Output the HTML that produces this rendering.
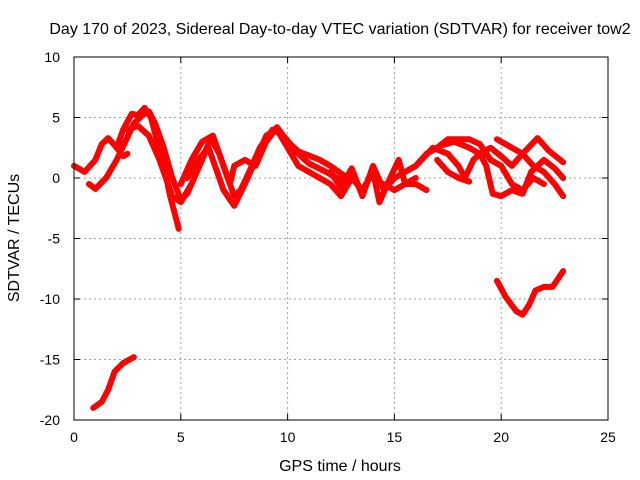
<!DOCTYPE html>
<html><head><meta charset="utf-8"><style>
body{margin:0;background:#fff;}
svg{display:block;font-family:"Liberation Sans",sans-serif;}
</style></head><body>
<svg id="chart" width="640" height="480">
<rect width="640" height="480" fill="#fff"/>
<text x="340" y="34" font-size="16" text-anchor="middle">Day 170 of 2023, Sidereal Day-to-day VTEC variation (SDTVAR) for receiver tow2</text>
<text x="340" y="471" font-size="16" text-anchor="middle">GPS time / hours</text>
<text x="19" y="238" font-size="16" text-anchor="middle" transform="rotate(-90 19 238)">SDTVAR / TECUs</text>
<g id="grid"></g><g id="series"></g>
<rect x="74" y="57" width="534" height="363" fill="none" stroke="#000"/>
</svg>
<script>
const xTicks=[0,5,10,15,20,25];
const yTicks=[10,5,0,-5,-10,-15,-20];
const tracks=[
[[0,1],[0.5,0.5],[1,1.5],[1.3,2.8],[1.6,3.3],[2,2.5],[2.3,1.8],[2.5,2]],
[[0.7,-0.5],[1,-0.9],[1.5,0],[2,1.5],[2.4,3],[2.8,4.5],[3.2,5.2],[3.5,5.5],[3.8,4.5],[4.2,2.5],[4.6,0],[5,-1.8],[5.3,-1.3],[5.5,-0.5]],
[[2,2.5],[2.3,4],[2.7,5.3],[3,5.2],[3.3,5.8],[3.6,5],[3.9,3],[4.2,1],[4.5,-1.5],[4.8,-3.5],[4.9,-4.2]],
[[2.5,4],[3,4.3],[3.5,3.5],[4,1.5],[4.3,0],[4.6,-1.5],[5,-2],[5.5,-0.5],[6,1.5],[6.4,3.3],[6.8,2],[7.2,0],[7.5,-1.5],[7.8,-1],[8.2,0.5],[8.7,2.5],[9.3,4],[9.8,3.5],[10.5,2],[11,1.2],[11.8,0.5],[12.5,-0.2]],
[[5,-0.5],[5.5,1.5],[6,3],[6.5,3.5],[7,1],[7.3,-0.5],[7.5,1],[8,1.5],[8.5,1],[9,3],[9.5,4.2],[10,3],[10.5,2.2],[11.5,1.5],[12,1],[12.8,0]],
[[5.3,0],[5.8,1.5],[6.3,2.5],[6.6,1],[7,-1],[7.5,-2.3],[8,-0.5],[8.5,1.5],[9,3.5],[9.5,4],[10,2.5],[10.5,1],[11,0.5],[11.5,0],[12,-0.5],[12.5,-1.5],[13,0],[13.5,-1],[14,0.5],[14.3,-2],[14.8,0],[15.2,1.5],[15.5,-0.5],[16,0]],
[[12,0.5],[12.5,-0.8],[13,0.8],[13.5,-1.5],[14,1],[14.5,-1],[15,0],[15.5,0.5],[16,1],[16.5,2],[17,2.5],[17.5,3.2],[18.5,3.2],[19,2.8],[19.5,1.5],[20,1],[20.5,-0.5],[21,-1],[21.5,0],[22,-0.5]],
[[14.5,-0.5],[15,-1],[15.5,-0.5],[16,-0.5],[16.5,-1]],
[[15.5,0.5],[16,1],[16.8,2.5],[17.5,2],[18,1],[18.3,0],[18.7,1.5],[19,2],[19.5,2.5],[20,1.8],[20.5,1],[21,2],[21.5,1],[22,0.5],[22.5,-0.5],[22.9,-1.5]],
[[17,1.5],[17.5,0.5],[18,0],[18.5,-0.3]],
[[17.2,2.7],[17.8,3],[18.5,2.5],[19,2],[19.3,1],[19.6,-1.3],[20,-1.5],[20.5,-1],[21,-1.3],[21.4,0.5],[22,1.5],[22.5,0.8],[22.9,0]],
[[19.8,3.2],[20.5,2.5],[21,2],[21.7,3.3],[22.2,2.3],[22.9,1.3]],
[[0.9,-19],[1.3,-18.5],[1.6,-17.5],[1.9,-16],[2.3,-15.3],[2.8,-14.8]],
[[19.8,-8.5],[20.2,-9.8],[20.7,-11],[21,-11.3],[21.3,-10.5],[21.6,-9.3],[22,-9],[22.4,-9],[22.9,-7.7]]
];
const X0=74,X1=608,Y0=420,Y1=57;
function sx(v){return X0+(v-0)/25*(X1-X0);}
function sy(v){return Y0-(v+20)/30*(Y0-Y1);}
const NS="http://www.w3.org/2000/svg";
const grid=document.getElementById('grid'),ser=document.getElementById('series');
function mk(tag,attrs,parent){const e=document.createElementNS(NS,tag);for(const k in attrs)e.setAttribute(k,attrs[k]);parent.appendChild(e);return e;}
xTicks.forEach(t=>{
 const x=sx(t);
 if(t>0&&t<25){const g=mk('line',{x1:x,x2:x,y1:Y1,y2:Y0,stroke:'#a0a0a0','stroke-dasharray':'2,3'},grid);
 
 }
 mk('line',{x1:x,x2:x,y1:Y0,y2:Y0-6,stroke:'#000'},grid);
 mk('line',{x1:x,x2:x,y1:Y1,y2:Y1+6,stroke:'#000'},grid);
 const l=mk('text',{x:x,y:Y0+22,'font-size':14,'text-anchor':'middle'},grid);l.textContent=t;
 
 
});
yTicks.forEach(t=>{
 const y=sy(t);
 if(t>-20&&t<10){const g=mk('line',{x1:X0,x2:X1,y1:y,y2:y,stroke:'#a0a0a0','stroke-dasharray':'2,3'},grid);
 
 }
 mk('line',{x1:X0,x2:X0+6,y1:y,y2:y,stroke:'#000'},grid);
 mk('line',{x1:X1,x2:X1-6,y1:y,y2:y,stroke:'#000'},grid);
 const l=mk('text',{x:X0-14,y:y+5,'font-size':14,'text-anchor':'end'},grid);l.textContent=t;
 
 
});
tracks.forEach((tr,i)=>{
 const p=mk('polyline',{points:tr.map(d=>sx(d[0])+','+sy(d[1])).join(' '),fill:'none',stroke:'#ff0000','stroke-width':6,'stroke-linejoin':'round','stroke-linecap':'round'},ser);
 
 
});
</script>
</body></html>
